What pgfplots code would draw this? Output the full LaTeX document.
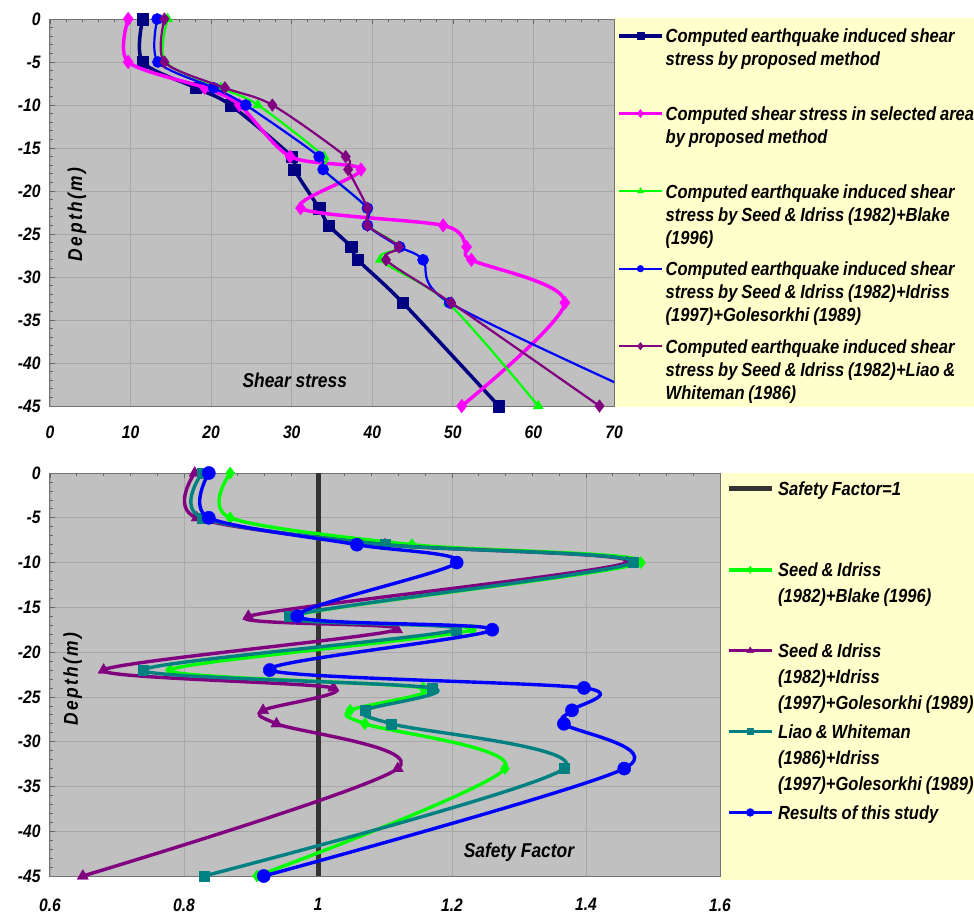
\documentclass[border=0pt]{standalone}
\usepackage{fontspec}
\setmainfont{Liberation Sans}[FakeStretch=0.87]
\usepackage{pgfplots}
\pgfplotsset{compat=1.18}
\definecolor{plotbg}{HTML}{C0C0C0}
\definecolor{legbg}{HTML}{FFFFCC}
\definecolor{navyc}{HTML}{000080}
\definecolor{magc}{HTML}{FF00FF}
\definecolor{greenc}{HTML}{00FF00}
\definecolor{bluec}{HTML}{0000FF}
\definecolor{purc}{HTML}{800080}
\definecolor{tealc}{HTML}{008080}
\definecolor{sfc}{HTML}{333333}
\definecolor{gridc}{HTML}{A8A8A8}
\newcommand{\lent}[1]{\spaceskip=0.2em\relax #1}
\pgfplotsset{
  excel/.style={
    scale only axis,
    clip mode=individual,
    axis background/.style={fill=plotbg},
    axis line style={draw=black!55, line width=1pt},
    grid=major,
    major grid style={draw=gridc, line width=0.8pt},
    tick align=inside,
    xtick pos=right, xticklabel pos=left,
    ytick pos=left,
    minor x tick num=4, minor y tick num=4,
    major tick length=5pt, minor tick length=3pt,
    every tick/.style={draw=black!60, line width=0.7pt},
    ticklabel style={font=\fontsize{18}{20}\selectfont\bfseries\itshape},
    yticklabel style={xshift=-6pt},
    xlabel style={font=\fontsize{20}{22}\selectfont\bfseries\itshape, anchor=center},
    ylabel style={font=\fontsize{20}{22}\selectfont\bfseries\itshape\addfontfeatures{LetterSpace=12}, anchor=center},
    legend cell align=left,
    legend image code/.code={%
      \draw[mark repeat=2, mark phase=2, #1, /tikz/every mark/.append style={scale=0.6}]
        plot coordinates {(0pt,7pt) (21.5pt,7pt) (43pt,7pt)};},
  },
  ser/.style n args={3}{color=#1, line width=#2, line join=round, smooth,
    mark=#3, mark options={solid, line width=0.4pt, fill=#1, draw=#1}},
}
\begin{document}
\begin{tikzpicture}
\useasboundingbox (0,0) rectangle (974pt,-914pt);
\fill[legbg] (614pt,-18pt) rectangle (974pt,-407pt);
\fill[legbg] (720pt,-473pt) rectangle (974pt,-880pt);

% ---------------- top panel ----------------
\begin{axis}[excel,
  at={(50pt,-19pt)}, anchor=north west,
  width=564pt, height=387pt,
  xmin=0, xmax=70, ymin=-45, ymax=0,
  xtick={0,10,20,30,40,50,60,70}, xticklabels={0,10,20,30,40,50,60,70},
  ytick={0,-5,-10,-15,-20,-25,-30,-35,-40,-45},
  yticklabels={0,-5,-10,-15,-20,-25,-30,-35,-40,-45},
  xticklabel style={yshift=-16pt},
  xlabel={Shear stress}, xlabel style={at={(axis description cs:0.434,0.067)}},
  ylabel={Depth(m)}, ylabel style={at={(axis description cs:0.048,0.495)}},
  legend style={at={(1,1)}, anchor=north west, xshift=3pt, yshift=-8pt,
    draw=none, fill=none, inner sep=0pt, row sep=58.3pt, column sep=0pt,
    font=\fontsize{19}{23}\selectfont\bfseries\itshape,
    cells={anchor=base west}},
]
\addplot[ser={navyc}{3.5pt}{square*}, mark size=5.7pt] coordinates {
 (11.5,0) (11.5,-5) (18.1,-8) (22.4,-10) (30.0,-16) (30.3,-17.5)
 (33.4,-22) (34.6,-24) (37.4,-26.5) (38.2,-28) (43.8,-33) (55.7,-45)};
\addlegendentry{\parbox[t]{330pt}{\raggedright\lent{Computed earthquake induced shear\\ stress by proposed method}}}
\addplot[ser={magc}{3.5pt}{diamond*}, mark size=6.8pt] coordinates {
 (9.7,0) (9.7,-5) (19.2,-8) (23.5,-10) (29.8,-16) (38.6,-17.5)
 (31.1,-22) (48.8,-24) (51.7,-26.5) (52.3,-28) (63.9,-33) (51.1,-45)};
\addlegendentry{\parbox[t]{330pt}{\raggedright\lent{Computed shear stress in selected area\\ by proposed method}}}
\addplot[ser={greenc}{2.2pt}{triangle*}, mark size=5.8pt] coordinates {
 (14.6,0) (14.3,-5) (21.2,-8) (25.8,-10) (34.0,-16) (33.9,-17.5)
 (39.4,-22) (39.4,-24) (43.4,-26.5) (41.0,-28) (49.4,-33) (60.6,-45)};
\addlegendentry{\parbox[t]{330pt}{\raggedright\lent{Computed earthquake induced shear\\ stress by Seed \& Idriss (1982)+Blake\\ (1996)}}}
\addplot[ser={bluec}{2.2pt}{*}, mark size=5.6pt] coordinates {
 (13.3,0) (13.4,-5) (20.3,-8) (24.3,-10) (33.4,-16) (33.9,-17.5)
 (39.4,-22) (39.4,-24) (43.4,-26.5) (46.3,-28) (49.6,-33) (76.5,-45)};
\addlegendentry{\parbox[t]{330pt}{\raggedright\lent{Computed earthquake induced shear\\ stress by Seed \& Idriss (1982)+Idriss\\ (1997)+Golesorkhi (1989)}}}
\addplot[ser={purc}{2.2pt}{diamond*}, mark size=6.3pt] coordinates {
 (14.2,0) (14.2,-5) (21.7,-8) (27.6,-10) (36.7,-16) (37.0,-17.5)
 (39.4,-22) (39.4,-24) (43.3,-26.5) (41.7,-28) (49.8,-33) (68.2,-45)};
\addlegendentry{\parbox[t]{330pt}{\raggedright\lent{Computed earthquake induced shear\\ stress by Seed \& Idriss (1982)+Liao \&\\ Whiteman (1986)}}}
\end{axis}

% ---------------- bottom panel ----------------
\begin{axis}[excel,
  at={(50pt,-473pt)}, anchor=north west,
  width=670pt, height=403pt,
  xmin=0.6, xmax=1.6, ymin=-45, ymax=0,
  xtick={0.6,0.8,1,1.2,1.4,1.6}, xticklabels={0.6,0.8,1,1.2,1.4,1.6},
  ytick={0,-5,-10,-15,-20,-25,-30,-35,-40,-45},
  yticklabels={0,-5,-10,-15,-20,-25,-30,-35,-40,-45},
  xticklabel style={yshift=-19pt},
  xlabel={Safety Factor}, xlabel style={at={(axis description cs:0.70,0.06)}},
  ylabel={Depth(m)}, ylabel style={at={(axis description cs:0.034,0.489)}},
  legend style={at={(1,1)}, anchor=north west, xshift=6pt, yshift=-7pt,
    draw=none, fill=none, inner sep=0pt, row sep=61.6pt, column sep=2pt,
    font=\fontsize{19}{26}\selectfont\bfseries\itshape,
    cells={anchor=base west}},
]
\addplot[color=sfc, line width=5pt, mark=none] coordinates {(1,0) (1,-45)};
\addlegendentry{\parbox[t]{260pt}{\raggedright\lent{Safety Factor=1}}}
\addplot[ser={greenc}{3.4pt}{diamond*}, mark size=6pt] coordinates {
 (0.869,0) (0.869,-5) (1.140,-8) (1.482,-10) (0.960,-16) (1.230,-17.5)
 (0.779,-22) (1.157,-24) (1.048,-26.5) (1.070,-28) (1.279,-33) (0.909,-45)};
\addlegendentry{\parbox[t]{260pt}{\raggedright\lent{Seed \& Idriss\\ (1982)+Blake (1996)}}}
\addplot[ser={purc}{3.4pt}{triangle*}, mark size=6.5pt] coordinates {
 (0.816,0) (0.819,-5) (1.100,-8) (1.461,-10) (0.896,-16) (1.118,-17.5)
 (0.680,-22) (1.023,-24) (0.918,-26.5) (0.938,-28) (1.119,-33) (0.649,-45)};
\addlegendentry{\parbox[t]{260pt}{\raggedright\lent{Seed \& Idriss\\ (1982)+Idriss\\ (1997)+Golesorkhi (1989)}}}
\addplot[ser={tealc}{3.4pt}{square*}, mark size=5pt] coordinates {
 (0.827,0) (0.827,-5) (1.100,-8) (1.470,-10) (0.957,-16) (1.207,-17.5)
 (0.739,-22) (1.170,-24) (1.070,-26.5) (1.109,-28) (1.367,-33) (0.830,-45)};
\addlegendentry{\parbox[t]{260pt}{\raggedright\lent{Liao \& Whiteman\\ (1986)+Idriss\\ (1997)+Golesorkhi (1989)}}}
\addplot[ser={bluec}{3.4pt}{*}, mark size=6.6pt] coordinates {
 (0.837,0) (0.837,-5) (1.058,-8) (1.207,-10) (0.969,-16) (1.260,-17.5)
 (0.928,-22) (1.397,-24) (1.379,-26.5) (1.367,-28) (1.457,-33) (0.919,-45)};
\addlegendentry{\parbox[t]{260pt}{\raggedright\lent{Results of this study}}}
\end{axis}
\end{tikzpicture}
\end{document}
